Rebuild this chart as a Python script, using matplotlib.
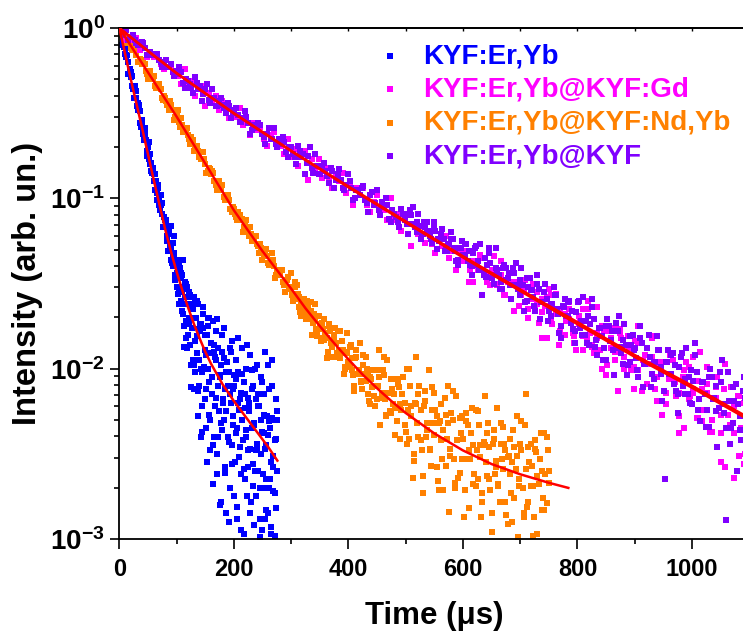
import numpy as np
import matplotlib
matplotlib.use("Agg")
import matplotlib.pyplot as plt
from matplotlib.ticker import FixedLocator, FuncFormatter, MultipleLocator, LogLocator, NullFormatter

plt.rcParams['font.family'] = ['Liberation Sans', 'DejaVu Sans']
plt.rcParams['font.weight'] = 'bold'
plt.rcParams['mathtext.fontset'] = 'custom'
plt.rcParams['mathtext.rm'] = 'Liberation Sans:bold'
plt.rcParams['mathtext.bf'] = 'Liberation Sans:bold'
plt.rcParams['mathtext.default'] = 'bf'

# series names and colours (legend order)
labels = ['KYF:Er,Yb', 'KYF:Er,Yb@KYF:Gd', 'KYF:Er,Yb@KYF:Nd,Yb', 'KYF:Er,Yb@KYF']
colors = ['#0000FF', '#FF00FF', '#FF8000', '#8000FF']

# measured decays, log10(intensity) read off the plot
# each block is sampled on a regular time grid: (start us, step us)
blue_a_grid = (0, 2)
blue_a = [0.00, -0.04, -0.02, -0.08, -0.06, -0.15, -0.16, -0.16, -0.27, -0.24,
          -0.29, -0.28, -0.36, -0.35, -0.41, -0.37, -0.48, -0.48, -0.49, -0.58,
          -0.56, -0.62, -0.59, -0.66, -0.75, -0.70, -0.77, -0.74, -0.84, -0.83,
          -0.86, -0.95, -0.90, -0.97, -0.92, -1.04, -1.04, -1.03, -1.17, -1.11,
          -1.17, -1.14, -1.25, -1.21, -1.28, -1.16, -1.38, -1.33, -1.32, -1.48,
          -1.47, -1.36, -1.55, -1.41, -1.60, -1.45, -1.68, -1.49, -1.72, -1.53,
          -1.80, -1.55, -1.86, -1.62, -1.95, -1.58, -2.02, -1.70, -1.91, -1.62,
          -2.10, -1.74, -2.22, -1.68, -1.99, -1.80, -2.35, -1.75, -2.08, -2.48,
          -1.85, -2.15, -1.72, -2.40, -1.95, -2.62, -1.88, -2.25, -2.05, -2.78,
          -1.80, -2.30, -2.12, -2.85, -1.96, -2.40, -2.02, -2.70, -1.84, -2.33,
          -2.10, -2.55, -1.95, -2.88, -2.20, -2.03, -2.62, -1.88, -2.42, -2.97,
          -2.15, -2.00, -2.58, -2.25, -1.92, -2.78, -2.35, -2.10, -2.92, -2.48,
          -1.98, -2.60, -2.22, -2.70, -2.05, -2.95, -2.38, -1.90, -2.65, -2.28,
          -2.85, -2.12, -2.55, -1.95, -2.72, -2.30, -2.98, -2.18, -2.60]
blue_b_grid = (91, 2)
blue_b = [-1.30, -1.40, -1.33, -1.45, -1.38, -1.52, -1.43, -1.62, -1.47, -1.66,
          -1.52, -1.75, -1.62, -1.50, -1.88, -1.70, -1.58, -1.98, -1.76, -1.65,
          -2.12, -1.84, -1.60, -2.28, -1.95, -1.78, -2.40, -2.02, -1.64, -2.18,
          -1.92, -2.55, -2.00, -1.70, -2.30, -2.05, -2.68, -1.90, -2.22, -1.78,
          -2.50, -2.10, -2.80, -1.98, -2.36, -2.18, -1.76, -2.58, -2.25, -2.02,
          -2.90, -2.15, -1.90, -2.45, -2.28, -2.75, -2.06, -2.35, -1.82, -2.52,
          -2.18, -2.95, -2.30, -2.08, -2.65, -2.40, -1.86, -2.48, -2.20, -2.85,
          -2.12, -2.56, -2.32, -2.00, -2.75, -2.44, -2.15, -2.99, -2.50, -2.08,
          -2.62, -2.27, -2.88, -2.45, -1.98, -2.70, -2.35, -2.93, -2.10, -2.58,
          -2.42, -2.82, -2.25]
blue_c_grid = (1, 2)
blue_c = [-0.01, 0.00, -0.10, -0.06, -0.11, -0.17, -0.12, -0.20, -0.27, -0.25,
          -0.26, -0.34, -0.41, -0.34, -0.41, -0.46, -0.44, -0.45, -0.56, -0.54,
          -0.59, -0.66, -0.62, -0.66, -0.72, -0.67, -0.80, -0.79, -0.85, -0.82,
          -0.90, -0.86, -1.01, -0.94, -0.99, -1.07, -0.98, -1.09, -1.17, -1.13,
          -1.13, -1.22, -1.31, -1.19, -1.27, -1.36, -1.26, -1.22, -1.46, -1.37,
          -1.44, -1.56, -1.39, -1.44, -1.55, -1.36, -1.87, -1.58, -1.82, -1.52,
          -1.74, -1.57, -2.11, -1.64, -1.70, -1.98, -1.60, -1.81, -2.13, -1.77,
          -1.74, -2.00, -2.37, -1.76, -1.89, -2.12, -1.80, -1.70, -2.27, -1.91,
          -2.05, -2.45, -1.86, -1.93, -2.17, -1.71, -2.40, -2.04, -2.32, -1.90,
          -2.20, -1.94, -2.61, -2.02, -2.10, -2.43, -1.88, -2.20, -2.56, -2.12,
          -2.04, -2.38, -2.81, -2.02, -2.24, -2.46, -2.14, -2.03, -2.59, -2.23,
          -2.36, -2.75, -2.17, -2.23, -2.47, -2.01, -2.69, -2.33, -2.60, -2.18,
          -2.48, -2.22, -2.88, -2.30, -2.37, -2.70, -2.15, -2.47, -2.83, -2.39,
          -2.31, -2.65, -2.97, -2.29, -2.51, -2.73, -2.41, -2.30]

orange_a_grid = (0, 4)
orange_a = [0.00, -0.04, -0.03, -0.07, -0.05, -0.12, -0.13, -0.13, -0.20, -0.18,
            -0.21, -0.21, -0.27, -0.26, -0.30, -0.28, -0.35, -0.35, -0.36, -0.42,
            -0.41, -0.45, -0.43, -0.48, -0.54, -0.50, -0.55, -0.53, -0.61, -0.60,
            -0.63, -0.68, -0.66, -0.71, -0.69, -0.76, -0.77, -0.77, -0.85, -0.82,
            -0.86, -0.85, -0.92, -0.91, -0.95, -0.92, -1.01, -1.00, -1.01, -1.08,
            -1.06, -1.11, -1.08, -1.13, -1.20, -1.15, -1.20, -1.17, -1.25, -1.24,
            -1.27, -1.32, -1.29, -1.34, -1.30, -1.38, -1.38, -1.36, -1.47, -1.42,
            -1.45, -1.42, -1.51, -1.48, -1.53, -1.44, -1.60, -1.56, -1.56, -1.67,
            -1.61, -1.68, -1.60, -1.69, -1.80, -1.68, -1.77, -1.69, -1.84, -1.77,
            -1.79, -1.90, -1.78, -1.87, -1.76, -1.91, -1.89, -1.84, -2.03, -1.90,
            -1.96, -1.86, -2.04, -1.94, -2.03, -1.85, -2.12, -2.03, -2.00, -2.19,
            -2.06, -2.16, -2.01, -2.10, -2.33, -2.01, -2.18, -1.95, -2.25, -2.12,
            -2.15, -2.31, -2.11, -2.24, -2.05, -2.37, -2.24, -2.10, -2.64, -2.20,
            -2.32, -2.10, -2.48, -2.22, -2.40, -2.01, -2.57, -2.32, -2.24, -2.66,
            -2.31, -2.53, -2.17, -2.41, -2.84, -2.26, -2.53, -2.16, -2.64, -2.38,
            -2.41, -2.71, -2.33, -2.53, -2.23, -2.62, -2.48, -2.33, -2.87, -2.43,
            -2.55, -2.32, -2.71, -2.44, -2.62, -2.23, -2.78, -2.53, -2.44, -2.86,
            -2.51, -2.73, -2.36, -2.59, -2.99, -2.44, -2.70, -2.33, -2.81, -2.55,
            -2.57, -2.87, -2.49, -2.68, -2.38, -2.76, -2.62, -2.48]
orange_b_grid = (302, 4)
orange_b = [-1.57, -1.49, -1.59, -1.58, -1.69, -1.59, -1.65, -1.71, -1.61, -1.73,
            -1.70, -1.81, -1.77, -1.73, -1.83, -1.94, -1.75, -1.85, -1.82, -1.93,
            -1.78, -1.94, -1.89, -1.99, -1.79, -1.99, -1.94, -2.10, -1.93, -2.02,
            -2.07, -1.92, -2.07, -2.03, -2.21, -2.01, -2.10, -2.18, -1.89, -2.14,
            -2.04, -2.27, -2.14, -2.06, -2.21, -2.39, -2.06, -2.21, -2.15, -2.33,
            -2.00, -2.41, -2.22, -2.50, -1.93, -2.40, -2.24, -2.63, -2.19, -2.36,
            -2.47, -2.11, -2.39, -2.28, -2.71, -2.21, -2.36, -2.57, -2.10, -2.47,
            -2.30, -2.70, -2.42, -2.29, -2.53, -2.87, -2.26, -2.48, -2.38, -2.68,
            -2.24, -2.65, -2.45, -2.73, -2.16, -2.63, -2.46, -2.85, -2.41, -2.58,
            -2.68, -2.32, -2.59, -2.48, -2.91, -2.41, -2.55, -2.76, -2.28, -2.65,
            -2.48, -2.87, -2.15, -2.46, -2.69, -2.98, -2.42, -2.63, -2.53, -2.83,
            -2.38, -2.79, -2.60]
orange_c_grid = (2, 4)
orange_c = [-0.02, -0.01, -0.09, -0.06, -0.09, -0.13, -0.10, -0.16, -0.20, -0.19,
            -0.20, -0.25, -0.30, -0.25, -0.30, -0.34, -0.33, -0.33, -0.41, -0.40,
            -0.43, -0.48, -0.45, -0.48, -0.52, -0.48, -0.58, -0.57, -0.61, -0.59,
            -0.65, -0.64, -0.72, -0.69, -0.72, -0.77, -0.73, -0.80, -0.84, -0.83,
            -0.84, -0.90, -0.95, -0.90, -0.95, -0.99, -0.98, -0.98, -1.06, -1.05,
            -1.09, -1.13, -1.10, -1.12, -1.17, -1.13, -1.22, -1.21, -1.25, -1.22,
            -1.28, -1.27, -1.36, -1.31, -1.34, -1.39, -1.32, -1.40, -1.45, -1.42,
            -1.42, -1.49, -1.55, -1.46, -1.52, -1.57, -1.52, -1.51, -1.64, -1.60,
            -1.64, -1.71, -1.63, -1.66, -1.72, -1.62, -1.78, -1.74, -1.82, -1.71,
            -1.82, -1.74, -1.93, -1.80, -1.85, -1.93, -1.78, -1.91, -2.00, -1.91,
            -1.87, -2.01, -2.13, -1.89, -2.01, -2.08, -1.98, -1.93, -2.15, -2.05,
            -2.11, -2.22, -2.01, -2.05, -2.17, -1.93, -2.28, -2.14, -2.26, -2.06,
            -2.23, -2.09, -2.41, -2.15, -2.20, -2.44, -2.00, -2.28, -2.54, -2.21,
            -2.15, -2.42, -2.73, -2.13, -2.32, -2.48, -2.24, -2.14, -2.58, -2.32,
            -2.42, -2.71, -2.27, -2.32, -2.51, -2.13, -2.67, -2.42, -2.61, -2.28,
            -2.53, -2.31, -2.82, -2.38, -2.45, -2.69, -2.25, -2.52, -2.78, -2.45,
            -2.38, -2.65, -2.96, -2.36, -2.54, -2.69, -2.44, -2.34, -2.78, -2.52,
            -2.62, -2.90, -2.46, -2.51, -2.69, -2.31, -2.85, -2.59, -2.78, -2.44,
            -2.69, -2.47, -2.97, -2.53, -2.60, -2.83, -2.40, -2.67]

purple_a_grid = (0, 6)
purple_a = [0.00, -0.04, -0.01, -0.05, -0.04, -0.09, -0.10, -0.09, -0.16, -0.14,
            -0.16, -0.15, -0.20, -0.20, -0.23, -0.21, -0.28, -0.27, -0.26, -0.35,
            -0.31, -0.35, -0.29, -0.36, -0.43, -0.36, -0.42, -0.36, -0.46, -0.43,
            -0.45, -0.50, -0.46, -0.50, -0.47, -0.55, -0.53, -0.52, -0.62, -0.57,
            -0.59, -0.57, -0.64, -0.62, -0.65, -0.59, -0.70, -0.68, -0.67, -0.76,
            -0.70, -0.76, -0.69, -0.76, -0.86, -0.75, -0.82, -0.74, -0.86, -0.81,
            -0.84, -0.91, -0.84, -0.89, -0.83, -0.94, -0.92, -0.90, -1.01, -0.95,
            -0.98, -0.93, -1.03, -0.98, -1.04, -0.95, -1.10, -1.05, -1.04, -1.14,
            -1.09, -1.14, -1.06, -1.13, -1.21, -1.10, -1.17, -1.09, -1.21, -1.17,
            -1.19, -1.26, -1.19, -1.25, -1.18, -1.29, -1.27, -1.24, -1.37, -1.29,
            -1.33, -1.27, -1.39, -1.32, -1.39, -1.27, -1.45, -1.39, -1.38, -1.50,
            -1.42, -1.49, -1.39, -1.47, -1.59, -1.44, -1.53, -1.41, -1.61, -1.52,
            -1.54, -1.66, -1.53, -1.61, -1.50, -1.66, -1.62, -1.57, -1.79, -1.63,
            -1.69, -1.60, -1.77, -1.67, -1.76, -1.58, -1.85, -1.74, -1.71, -1.92,
            -1.76, -1.88, -1.71, -1.83, -2.04, -1.78, -1.91, -1.74, -1.98, -1.86,
            -1.88, -2.05, -1.85, -1.97, -1.80, -2.03, -1.96, -1.89, -2.19, -1.96,
            -2.03, -1.91, -2.13, -1.99, -2.10, -1.88, -2.20, -2.07, -2.02, -2.31,
            -2.08, -2.24, -2.00, -2.17, -2.46, -2.08, -2.26, -2.02, -2.35, -2.19,
            -2.21, -2.42, -2.17, -2.31]
purple_b_grid = (502, 6)
purple_b = [-1.15, -1.07, -1.15, -1.14, -1.24, -1.14, -1.19, -1.24, -1.14, -1.24,
            -1.22, -1.31, -1.27, -1.24, -1.31, -1.39, -1.25, -1.33, -1.31, -1.40,
            -1.28, -1.42, -1.57, -1.46, -1.29, -1.45, -1.29, -1.53, -1.41, -1.48,
            -1.51, -1.41, -1.51, -1.48, -1.66, -1.47, -1.54, -1.63, -1.45, -1.61,
            -1.55, -1.72, -1.62, -1.57, -1.68, -1.82, -1.59, -1.69, -1.66, -1.78,
            -1.60, -1.80, -1.72, -1.86, -1.59, -1.83, -1.76, -1.95, -1.75, -1.84,
            -1.89, -1.73, -1.87, -1.83, -2.04, -1.81, -1.89, -2.01, -1.75, -1.97,
            -1.88, -2.11, -1.96, -1.89, -2.03, -2.65, -1.89, -2.03, -1.98, -2.15,
            -1.91, -2.15, -2.05, -2.21, -1.85, -2.18, -2.08, -2.34, -2.05, -2.18,
            -2.25, -2.02, -2.21, -2.89, -2.44, -2.11, -2.60, -2.36, -2.05, -2.31]
purple_c_grid = (3, 6)
purple_c = [-0.01, -0.01, -0.07, -0.05, -0.07, -0.10, -0.08, -0.12, -0.16, -0.15,
            -0.15, -0.19, -0.23, -0.19, -0.23, -0.26, -0.25, -0.23, -0.32, -0.30,
            -0.33, -0.38, -0.32, -0.34, -0.39, -0.33, -0.44, -0.41, -0.46, -0.41,
            -0.47, -0.44, -0.53, -0.48, -0.51, -0.55, -0.49, -0.56, -0.60, -0.57,
            -0.56, -0.62, -0.68, -0.59, -0.65, -0.68, -0.65, -0.64, -0.73, -0.70,
            -0.74, -0.80, -0.72, -0.74, -0.79, -0.70, -0.85, -0.81, -0.86, -0.79,
            -0.87, -0.82, -0.94, -0.86, -0.89, -0.95, -0.86, -0.94, -1.00, -0.95,
            -0.94, -1.01, -1.08, -0.96, -1.03, -1.07, -1.02, -1.00, -1.12, -1.07,
            -1.11, -1.17, -1.09, -1.09, -1.15, -1.05, -1.20, -1.16, -1.21, -1.14,
            -1.22, -1.17, -1.30, -1.21, -1.24, -1.31, -1.20, -1.29, -1.36, -1.29,
            -1.27, -1.37, -1.45, -1.29, -1.37, -1.42, -1.35, -1.32, -1.47, -1.41,
            -1.45, -1.53, -1.41, -1.44, -1.51, -1.38, -1.57, -1.51, -1.60, -1.47,
            -1.58, -1.50, -1.71, -1.55, -1.59, -1.69, -1.52, -1.65, -1.75, -1.64,
            -1.61, -1.73, -1.85, -1.61, -1.72, -1.80, -1.69, -1.64, -1.87, -1.76,
            -1.81, -1.95, -1.75, -1.78, -1.88, -1.69, -1.97, -1.86, -1.96, -1.80,
            -1.94, -1.82, -2.11, -1.88, -1.93, -2.06, -1.81, -1.99, -2.13, -1.96,
            -1.92, -2.09, -2.26, -1.93, -2.06, -2.15, -2.01, -1.92, -2.24, -2.08,
            -2.15, -2.34, -2.05, -2.10, -2.23, -1.95, -2.35, -2.19, -2.32, -2.09,
            -2.28, -2.13, -2.48]

magenta_a_grid = (0, 6)
magenta_a = [0.00, -0.03, -0.07, -0.05, -0.07, -0.06, -0.13, -0.12, -0.17, -0.15,
             -0.17, -0.16, -0.21, -0.24, -0.23, -0.22, -0.27, -0.28, -0.33, -0.24,
             -0.33, -0.31, -0.40, -0.36, -0.34, -0.46, -0.38, -0.43, -0.40, -0.48,
             -0.43, -0.50, -0.53, -0.48, -0.52, -0.47, -0.57, -0.55, -0.63, -0.56,
             -0.60, -0.58, -0.65, -0.69, -0.63, -0.61, -0.68, -0.69, -0.74, -0.65,
             -0.76, -0.71, -0.81, -0.76, -0.72, -0.89, -0.77, -0.82, -0.77, -0.88,
             -0.82, -0.89, -0.94, -0.87, -0.90, -0.85, -0.97, -0.92, -1.04, -0.94,
             -0.98, -0.94, -1.04, -1.08, -1.02, -0.98, -1.06, -1.07, -1.13, -1.00,
             -1.13, -1.09, -1.19, -1.12, -1.10, -1.28, -1.15, -1.21, -1.16, -1.26,
             -1.19, -1.27, -1.32, -1.25, -1.28, -1.22, -1.35, -1.31, -1.42, -1.31,
             -1.37, -1.31, -1.42, -1.49, -1.38, -1.33, -1.45, -1.44, -1.51, -1.34,
             -1.51, -1.45, -1.57, -1.49, -1.44, -1.66, -1.49, -1.57, -1.48, -1.65,
             -1.52, -1.64, -1.73, -1.59, -1.63, -1.53, -1.74, -1.65, -1.86, -1.64,
             -1.72, -1.65, -1.79, -1.89, -1.72, -1.65, -1.82, -1.79, -1.91, -1.64,
             -1.89, -1.78, -1.98, -1.84, -1.76, -2.13, -1.82, -1.93, -1.81, -2.01,
             -1.84, -2.01, -2.13, -1.92, -1.97, -1.82, -2.12, -1.98, -2.27, -1.96,
             -2.06, -1.95, -2.16, -2.28, -2.05, -1.96, -2.16, -2.12, -2.29, -1.90,
             -2.24, -2.09, -2.37, -2.17, -2.05, -2.55, -2.12, -2.27, -2.11, -2.38,
             -2.16, -2.35, -2.50, -2.24]
magenta_b_grid = (602, 8)
magenta_b = [-1.31, -1.49, -1.37, -1.42, -1.35, -1.49, -1.42, -1.50, -1.37, -1.57,
             -1.51, -1.49, -1.63, -1.54, -1.65, -1.50, -1.62, -1.82, -1.58, -1.71,
             -1.56, -1.78, -1.68, -1.71, -1.85, -1.69, -1.81, -1.65, -1.87, -1.82,
             -1.75, -2.04, -1.82, -1.90, -1.79, -2.00, -1.87, -1.99, -1.75, -2.11,
             -1.97, -1.93, -2.19, -1.99, -2.14, -1.92, -2.08, -2.38, -2.01, -2.18,
             -1.93, -2.29, -2.12, -2.14, -2.37, -2.11, -2.27, -2.58, -2.35, -2.64,
             -2.16, -2.56, -2.25]
magenta_c_grid = (706, 8)
magenta_c = [-1.52, -1.70, -1.59, -1.55, -1.67, -1.82, -1.57, -1.68, -1.65, -1.80,
             -1.61, -1.81, -1.74, -1.89, -1.60, -1.86, -1.79, -2.00, -1.78, -1.88,
             -1.95, -1.77, -1.93, -1.88, -2.12, -1.85, -1.95, -2.09, -1.81, -2.05,
             -1.96, -2.21, -2.05, -1.98, -2.14, -2.35, -1.99, -2.14, -2.07, -2.31,
             -1.99, -2.30, -2.17, -2.38, -1.97, -2.33, -2.22, -2.51, -2.20, -2.34]

# fitted decay curves (red lines), knots: time (us), log10(I)
blue_fit_t = [0, 20, 40, 60, 80, 90, 100, 110, 120, 130, 140, 150, 160, 170,
              180, 190, 200, 220, 240, 260, 276]
blue_fit = [0, -0.30, -0.59, -0.89, -1.18, -1.31, -1.43, -1.54, -1.64, -1.735,
            -1.82, -1.90, -1.97, -2.03, -2.09, -2.14, -2.19, -2.28, -2.37, -2.46, -2.54]
orange_fit_t = [0, 100, 200, 250, 275, 300, 325, 350, 375, 400, 425, 450, 475,
                500, 525, 550, 575, 600, 625, 650, 675, 700, 725, 750, 784]
orange_fit = [0, -0.52, -1.07, -1.31, -1.42, -1.53, -1.645, -1.75, -1.85, -1.945,
              -2.035, -2.115, -2.19, -2.26, -2.32, -2.38, -2.43, -2.48, -2.52,
              -2.56, -2.59, -2.62, -2.645, -2.67, -2.70]
shell_fit_t = [0, 50, 100, 200, 300, 400, 500, 600, 700, 800, 900, 1000, 1100]
purple_fit = [0, -0.135, -0.265, -0.50, -0.72, -0.93, -1.135, -1.34, -1.535,
              -1.727, -1.92, -2.10, -2.29]
magenta_fit = [0, -0.135, -0.266, -0.502, -0.723, -0.935, -1.141, -1.347, -1.544,
               -1.739, -1.931, -2.112, -2.302]


def sampled(grid, vals):
    start, step = grid
    return start + step * np.arange(len(vals)), 10.0 ** np.asarray(vals)


series = {
    'blue': [sampled(blue_a_grid, blue_a), sampled(blue_b_grid, blue_b),
             sampled(blue_c_grid, blue_c)],
    'magenta': [sampled(magenta_a_grid, magenta_a), sampled(magenta_b_grid, magenta_b),
                sampled(magenta_c_grid, magenta_c)],
    'orange': [sampled(orange_a_grid, orange_a), sampled(orange_b_grid, orange_b),
               sampled(orange_c_grid, orange_c)],
    'purple': [sampled(purple_a_grid, purple_a), sampled(purple_b_grid, purple_b),
               sampled(purple_c_grid, purple_c)],
}
keys = ['blue', 'magenta', 'orange', 'purple']

fig = plt.figure(figsize=(7.43, 6.33), dpi=100)
# right edge of the frame sits just outside the picture (the original is cropped there)
ax = fig.add_axes([119.3 / 743, 94 / 633, 630 / 743, 511 / 633])

handles = {}
for key in ['blue', 'orange', 'magenta', 'purple']:
    col = colors[keys.index(key)]
    t = np.concatenate([s[0] for s in series[key]])
    y = np.concatenate([s[1] for s in series[key]])
    handles[key] = ax.scatter(t, y, s=22, marker='s', color=col, linewidths=0, zorder=2)

for ft, fv in [(blue_fit_t, blue_fit), (orange_fit_t, orange_fit),
               (shell_fit_t, magenta_fit), (shell_fit_t, purple_fit)]:
    ax.plot(ft, 10.0 ** np.asarray(fv), color='#FF0000', lw=1.8, zorder=4)

ax.set_yscale('log')
ax.set_xlim(0, 1100)
ax.set_ylim(1e-3, 1)

ax.xaxis.set_major_locator(MultipleLocator(200))
ax.xaxis.set_minor_locator(MultipleLocator(100))
ax.yaxis.set_major_locator(FixedLocator([1e-3, 1e-2, 1e-1, 1]))
ax.yaxis.set_major_formatter(FuncFormatter(lambda v, p: r'$\mathbf{10^{%d}}$' % int(round(np.log10(v)))))
ax.yaxis.set_minor_locator(LogLocator(base=10, subs=np.arange(2, 10)))
ax.yaxis.set_minor_formatter(NullFormatter())

ax.tick_params(axis='x', which='major', direction='out', length=7, width=1.2, labelsize=17, pad=7)
ax.tick_params(axis='x', which='minor', direction='out', length=3.8, width=1.2)
ax.tick_params(axis='y', which='major', direction='out', length=6.5, width=1.2, labelsize=20, pad=4)
ax.tick_params(axis='y', which='minor', direction='out', length=3.6, width=1.2)
for sp in ax.spines.values():
    sp.set_linewidth(1.3)

top = ax.secondary_xaxis('top')
top.set_xticks(np.arange(0, 1101, 100))
top.tick_params(direction='in', length=2.5, width=1.0, labeltop=False)
top.spines['top'].set_linewidth(1.3)

ax.set_xlabel('Time (μs)', fontsize=22.5, fontweight='bold', labelpad=14)
ax.set_ylabel('Intensity (arb. un.)', fontsize=23.5, fontweight='bold', labelpad=5)

leg = ax.legend([handles[k] for k in keys], labels, loc='upper left',
                bbox_to_anchor=(376 / 743, 1 - 43 / 633), bbox_transform=fig.transFigure,
                frameon=False, scatterpoints=1, handlelength=1.0, handletextpad=0.7,
                labelspacing=0.27, borderpad=0, borderaxespad=0, markerscale=0.8,
                prop={'size': 20, 'weight': 'bold'}, labelcolor=colors)

fig.savefig('out.png', dpi=100)
